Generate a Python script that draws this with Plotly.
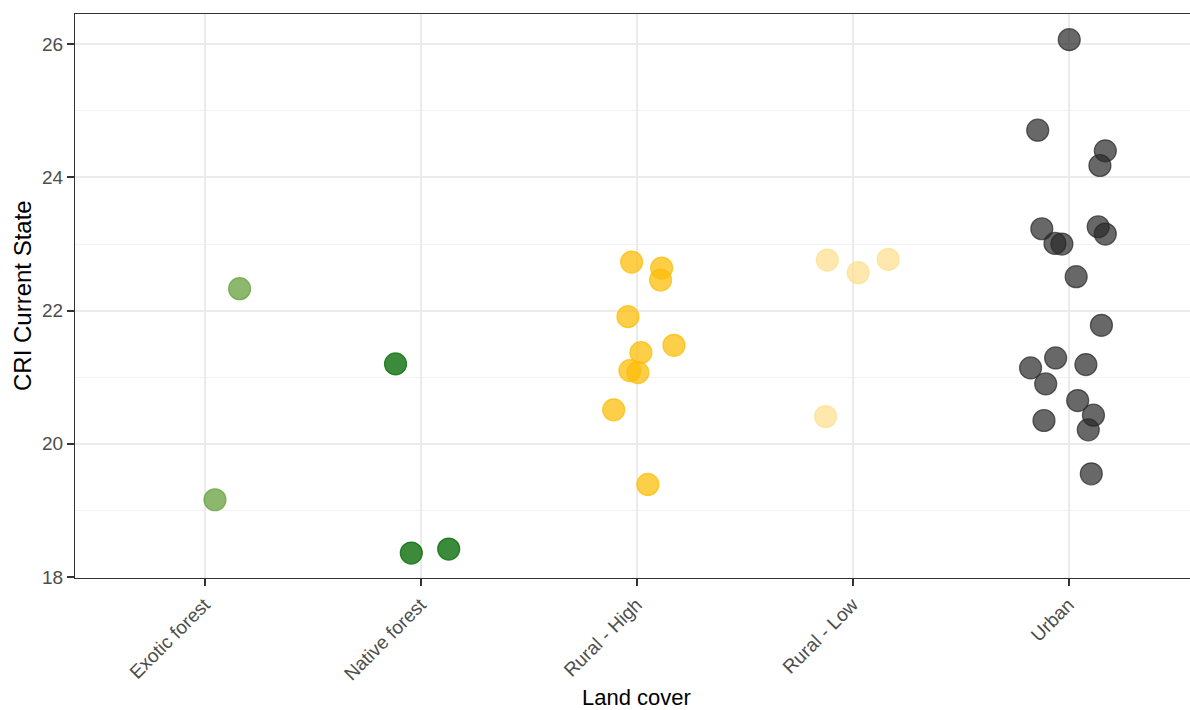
import plotly.graph_objects as go

# Land-cover categories (positions 1..5 on the x axis)
categories = ["Exotic forest", "Native forest", "Rural - High", "Rural - Low", "Urban"]

# CRI current-state values per land cover, with the horizontal jitter of each point
exotic_vals = [22.33, 19.16]
exotic_jit = [0.162, 0.048]

native_vals = [21.20, 18.36, 18.42]
native_jit = [-0.116, -0.043, 0.130]

rural_high_vals = [22.73, 22.64, 22.46, 21.91, 21.48, 21.37, 21.10, 21.07, 20.51, 19.39]
rural_high_jit = [-0.023, 0.116, 0.111, -0.040, 0.173, 0.020, -0.031, 0.006, -0.106, 0.052]

rural_low_vals = [22.76, 22.57, 22.77, 20.41]
rural_low_jit = [-0.117, 0.026, 0.165, -0.125]

urban_vals = [26.07, 24.71, 24.40, 24.18, 23.23, 23.26, 23.15, 23.01, 23.00, 22.51,
              21.78, 21.29, 21.14, 21.19, 20.90, 20.65, 20.43, 20.35, 20.21, 19.55]
urban_jit = [0.003, -0.143, 0.170, 0.145, -0.124, 0.137, 0.170, -0.063, -0.031, 0.035,
             0.152, -0.060, -0.176, 0.080, -0.106, 0.042, 0.115, -0.114, 0.091, 0.105]

y_ticks = [18, 20, 22, 24, 26]

groups = [
    (exotic_vals, exotic_jit, "rgba(100,160,60,0.75)"),
    (native_vals, native_jit, "rgba(10,110,10,0.8)"),
    (rural_high_vals, rural_high_jit, "rgba(252,190,10,0.75)"),
    (rural_low_vals, rural_low_jit, "rgba(253,222,140,0.7)"),
    (urban_vals, urban_jit, "rgba(40,40,40,0.7)"),
]

FONT = "Liberation Sans, Arial, Helvetica, sans-serif"

fig = go.Figure()
for i, (vals, jit, col) in enumerate(groups):
    pos = i + 1
    fig.add_trace(go.Scatter(
        x=[pos + j for j in jit],
        y=vals,
        mode="markers",
        name=categories[i],
        showlegend=False,
        marker=dict(size=22, color=col, line=dict(width=1.2, color=col)),
        hoverinfo="skip",
    ))

fig.update_layout(
    width=1190,
    height=710,
    margin=dict(l=75, r=0, t=14, b=132),
    paper_bgcolor="white",
    plot_bgcolor="white",
    font=dict(family=FONT, color="#4D4D4D", size=19),
    xaxis=dict(
        range=[0.4, 0.4 + 1115 / 216],
        tickvals=[1, 2, 3, 4, 5],
        ticktext=categories,
        tickangle=-45,
        showgrid=True,
        gridcolor="#EBEBEB",
        gridwidth=1.6,
        zeroline=False,
        showline=True,
        linecolor="#333333",
        linewidth=1.3,
        mirror=True,
        ticks="outside",
        ticklen=7,
        tickwidth=1.5,
        tickcolor="#333333",
        tickfont=dict(size=19, color="#4D4D4D"),
    ),
    yaxis=dict(
        range=[17.985, 26.455],
        tickvals=y_ticks,
        showgrid=True,
        gridcolor="#EBEBEB",
        gridwidth=1.6,
        minor=dict(dtick=1, tick0=0, showgrid=True, gridcolor="#F2F2F2", gridwidth=1.0),
        zeroline=False,
        showline=True,
        linecolor="#333333",
        linewidth=1.3,
        ticks="outside",
        ticklen=7,
        tickwidth=1.5,
        tickcolor="#333333",
        tickfont=dict(size=19, color="#4D4D4D"),
    ),
    annotations=[
        dict(text="Land cover", x=3, xref="x", y=-0.211, yref="paper",
             xanchor="center", yanchor="middle", showarrow=False,
             font=dict(size=22, color="black", family=FONT)),
        dict(text="CRI Current State", x=-0.0475, xref="paper", y=0.5, yref="paper",
             xanchor="center", yanchor="middle", textangle=-90, showarrow=False,
             font=dict(size=24, color="black", family=FONT)),
    ],
)

fig.write_html("out.html")
